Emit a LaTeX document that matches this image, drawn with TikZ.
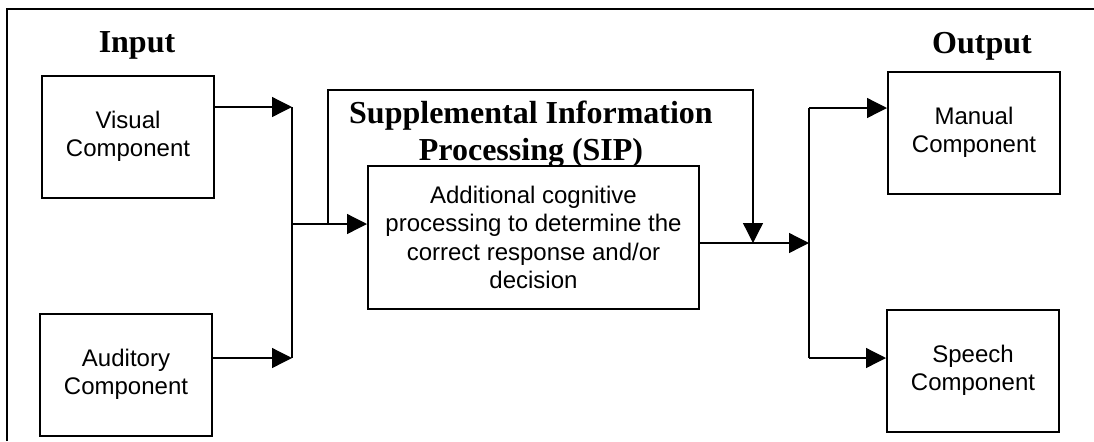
\documentclass[tikz,border=0pt]{standalone}
\usepackage{fontspec}
\setmainfont{Liberation Serif}
\setsansfont{Liberation Sans}
\usetikzlibrary{arrows.meta}

\begin{document}
\begin{tikzpicture}[
		x=0.5pt, y=-0.5pt,
		b/.style = {rectangle, draw, fill=white, line width=1pt, minimum width=86pt, minimum height=61pt, inner sep=0pt, align=center, font=\sffamily\fontsize{12}{14.2}\selectfont},
		t/.style = {inner sep=0pt, align=center, font=\bfseries\fontsize{16}{18.5}\selectfont},
		l/.style = {line width=0.65pt},
		r/.style = {-{Triangle[length=10pt, width=10pt]}, line width=0.65pt},
		]
		
		\useasboundingbox (0,0) rectangle (1094,441);
		\draw[line width=0.9pt] (7,441) -- (7,9) -- (1094,9);
		
		%Nodes
		\node[t]	(tin)	at	(137, 45.5)	{Input};
		\node[t]	(tout)	at	(982, 46)	{Output};
		\node[t]	(tsip)	at	(531, 134)	{Supplemental Information\\Processing (SIP)};
		\node[b]	(vis)	at	(128, 136.5)	{Visual\\Component};
		\node[b]	(aud)	at	(126, 374.5)	{Auditory\\Component};
		\node[b, minimum width=165.5pt, minimum height=71.5pt]	(sip)	at	(533.5, 237.5)	{Additional cognitive\\processing to determine the\\correct response and/or\\decision};
		\node[b]	(man)	at	(974, 132.5)	{Manual\\Component};
		\node[b]	(sp)	at	(973, 370.5)	{Speech\\Component};
		
		%Points
		\coordinate	(inV)	at	(292, 107);
		\coordinate	(inA)	at	(292, 358);
		\coordinate	(mrg)	at	(292, 224);
		\coordinate	(fb)	at	(328, 224);
		\coordinate	(loop)	at	(753, 90);
		\coordinate	(outJ)	at	(753, 243);
		\coordinate	(spl)	at	(809, 243);
		\coordinate	(outM)	at	(809, 108);
		\coordinate	(outS)	at	(809, 358);
		
		%Lines
		\draw[r]	(vis.east |- inV)	--	(inV);
		\draw[r]	(aud.east |- inA)	--	(inA);
		\draw[l]	(inV)	--	(inA);
		\draw[r]	(mrg)	--	(mrg -| sip.west);
		\draw[r]	(fb)	|-	(loop)	--	(outJ);
		\draw[r]	(sip.east |- spl)	--	(spl);
		\draw[l]	(outM)	--	(outS);
		\draw[r]	(outM)	--	(outM -| man.west);
		\draw[r]	(outS)	--	(outS -| sp.west);
	\end{tikzpicture}
\end{document}
